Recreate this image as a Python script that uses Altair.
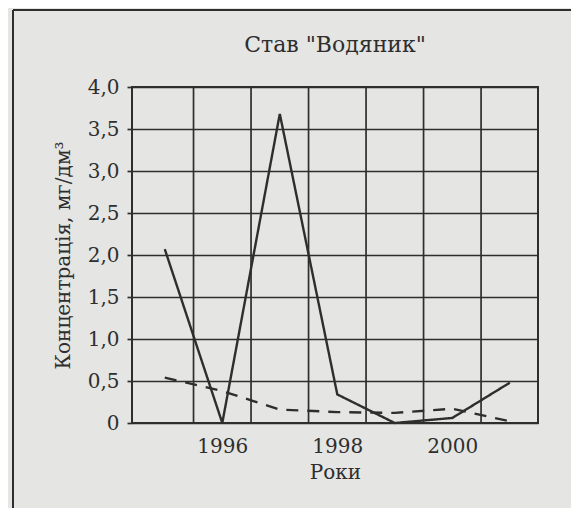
import altair as alt
import pandas as pd

# ---- data ----
years = [1995, 1996, 1997, 1998, 1999, 2000, 2001]
solid_values = [2.07, 0.0, 3.68, 0.34, 0.0, 0.06, 0.48]
dashed_values = [0.54, 0.38, 0.16, 0.13, 0.12, 0.17, 0.02]
x_tick_labels = [1996, 1998, 2000]
y_tick_values = [0, 0.5, 1.0, 1.5, 2.0, 2.5, 3.0, 3.5, 4.0]
x_grid_positions = [1995.5, 1996.5, 1997.5, 1998.5, 1999.5, 2000.5]
series_names = ["solid", "dashed"]
chart_title = 'Став "Водяник"'

df = pd.DataFrame({
    "year": years * 2,
    "value": solid_values + dashed_values,
    "series": [series_names[0]] * len(years) + [series_names[1]] * len(years),
})
grid_df = pd.DataFrame({"g": x_grid_positions})
title_df = pd.DataFrame({"t": [chart_title]})

FONT = "DejaVu Serif"
INK = "#2e2e2e"
BG = "#e5e5e3"
FS = 20

x_scale = alt.Scale(domain=[1994.43, 2001.49], nice=False, zero=False)
y_scale = alt.Scale(domain=[0, 4], nice=False)

lines = alt.Chart(df).mark_line(strokeWidth=2.4, color=INK).encode(
    x=alt.X("year:Q", scale=x_scale,
            axis=alt.Axis(values=x_tick_labels, format="d", grid=False, ticks=False,
                          domain=False, title="Роки", labelFont=FONT, labelFontSize=FS,
                          labelColor=INK, labelPadding=13, titleFont=FONT,
                          titleFontSize=FS, titleFontWeight="normal", titleColor=INK,
                          titlePadding=6)),
    y=alt.Y("value:Q", scale=y_scale,
            axis=alt.Axis(values=y_tick_values,
                          labelExpr="datum.value == 0 ? '0' : replace(format(datum.value, '.1f'), '.', ',')",
                          grid=True, gridColor=INK, gridWidth=1.7, gridOpacity=1,
                          tickSize=5, tickColor=INK, tickWidth=1.7, domain=False,
                          labelFont=FONT, labelFontSize=FS, labelColor=INK, labelPadding=8,
                          title="Концентрація, мг/дм³", titleFont=FONT, titleFontSize=FS,
                          titleFontWeight="normal", titleColor=INK, titlePadding=14)),
    strokeDash=alt.StrokeDash("series:N", scale=alt.Scale(domain=series_names,
                                                          range=[[1, 0], [12, 9]]),
                              legend=None),
    detail="series:N",
)

vgrid = alt.Chart(grid_df).mark_rule(color=INK, strokeWidth=1.7).encode(
    x=alt.X("g:Q", scale=x_scale)
)

title_text = alt.Chart(title_df).mark_text(
    font=FONT, fontSize=22, fontWeight="normal", color=INK, align="center",
    baseline="middle"
).encode(text="t:N", x=alt.value(203), y=alt.value(-42))

frame_left = alt.Chart(grid_df).mark_rule(color=INK, strokeWidth=2).encode(
    x=alt.value(-119), y=alt.value(-77), y2=alt.value(440)
)
frame_top = alt.Chart(grid_df).mark_rule(color=INK, strokeWidth=2).encode(
    x=alt.value(-119), x2=alt.value(460), y=alt.value(-77)
)

chart = alt.layer(vgrid, lines, title_text, frame_left, frame_top).properties(
    width=406,
    height=336,
    autosize=alt.AutoSizeParams(type="none"),
    padding={"left": 124, "top": 79, "right": 33, "bottom": 85},
    background=BG,
).configure(font=FONT).configure_text(font=FONT).configure_view(stroke=INK, strokeWidth=2)

chart.save("out.html", embed_options={"renderer": "svg", "actions": False})
